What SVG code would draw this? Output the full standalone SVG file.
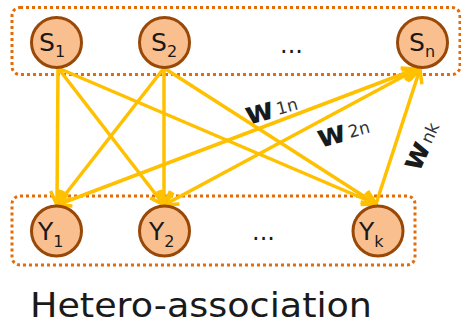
<svg xmlns="http://www.w3.org/2000/svg" width="461" height="326" viewBox="0 0 461 326">
  <style>
    .grp { fill: none; stroke: #E36C09; stroke-width: 3; stroke-dasharray: 3 3; }
    .neuron { fill: #F9BF8F; stroke: #984807; stroke-width: 3; }
    .lbl { font-family: "DejaVu Sans", Verdana, sans-serif; font-size: 25px; fill: #1a1a1a; }
    .sub { font-size: 16px; }
    .edge { fill: none; stroke: #FFC000; stroke-width: 3.5; }
    .wt { font-family: "DejaVu Sans", Verdana, sans-serif; font-size: 31px; font-weight: bold; fill: #1a1a1a; }
    .wsub { font-size: 17px; font-weight: normal; fill: #333; }
    .dots { font-family: "DejaVu Sans", Verdana, sans-serif; font-size: 24px; fill: #1a1a1a; }
    .caption { font-family: "DejaVu Sans", Verdana, sans-serif; font-size: 33px; fill: #1a1a1a; }
  </style>
  <defs>
    <marker id="ah" viewBox="-16 -9 18 18" refX="0" refY="0" markerWidth="18" markerHeight="18" markerUnits="userSpaceOnUse" orient="auto-start-reverse">
      <path d="M-14,-6.5 L0,0 L-14,6.5" fill="none" stroke="#FFC000" stroke-width="3.5"/>
    </marker>
  </defs>

  <!-- layer groupings -->
  <g id="groups">
    <rect class="grp" x="12" y="7.5" width="448" height="67" rx="8"/>
    <rect class="grp" x="12" y="196" width="403" height="69" rx="8"/>
  </g>

  <!-- weighted connections -->
  <g id="connectors">
    <line class="edge" x1="58" y1="68" x2="57" y2="205" marker-end="url(#ah)"/>
    <line class="edge" x1="58" y1="68" x2="164" y2="205" marker-end="url(#ah)"/>
    <line class="edge" x1="58" y1="68" x2="376" y2="204" marker-end="url(#ah)"/>
    <line class="edge" x1="164" y1="68" x2="57" y2="205" marker-end="url(#ah)"/>
    <line class="edge" x1="164" y1="68" x2="164" y2="205" marker-end="url(#ah)"/>
    <line class="edge" x1="164" y1="68" x2="376" y2="204" marker-end="url(#ah)"/>
    <line class="edge" x1="57" y1="205" x2="416" y2="69" marker-start="url(#ah)" marker-end="url(#ah)"/>
    <line class="edge" x1="164" y1="205" x2="417" y2="69" marker-start="url(#ah)" marker-end="url(#ah)"/>
    <line class="edge" x1="376" y1="204" x2="420" y2="69" marker-end="url(#ah)"/>
  </g>

  <!-- weight labels -->
  <g id="weights">
    <text class="wt" transform="translate(248,125) rotate(-15)">w<tspan class="wsub" dx="3" dy="-2">1n</tspan></text>
    <text class="wt" transform="translate(320,148) rotate(-15)">w<tspan class="wsub" dx="3" dy="-2">2n</tspan></text>
    <text class="wt" transform="translate(419,173) rotate(-65)">w<tspan class="wsub" dx="2" dy="-1">nk</tspan></text>
  </g>

  <!-- input layer -->
  <g id="S1">
    <circle class="neuron" cx="56.5" cy="42.5" r="25"/>
    <text class="lbl" x="39" y="51">S<tspan class="sub" dy="6">1</tspan></text>
  </g>
  <g id="S2">
    <circle class="neuron" cx="164.5" cy="42.5" r="25"/>
    <text class="lbl" x="151" y="51">S<tspan class="sub" dy="6">2</tspan></text>
  </g>
  <text class="dots" x="280" y="53">...</text>
  <g id="Sn">
    <circle class="neuron" cx="422.5" cy="42.5" r="25"/>
    <text class="lbl" x="409" y="51">S<tspan class="sub" dy="6">n</tspan></text>
  </g>

  <!-- output layer -->
  <g id="Y1">
    <circle class="neuron" cx="56.5" cy="231" r="25"/>
    <text class="lbl" x="38" y="240">Y<tspan class="sub" dy="7">1</tspan></text>
  </g>
  <g id="Y2">
    <circle class="neuron" cx="164.5" cy="231" r="25"/>
    <text class="lbl" x="149" y="240">Y<tspan class="sub" dy="7">2</tspan></text>
  </g>
  <text class="dots" x="252" y="240">...</text>
  <g id="Yk">
    <circle class="neuron" cx="378" cy="231" r="25"/>
    <text class="lbl" x="359" y="240">Y<tspan class="sub" dy="7">k</tspan></text>
  </g>

  <text class="caption" x="30" y="317" textLength="342" lengthAdjust="spacingAndGlyphs">Hetero-association</text>
</svg>
